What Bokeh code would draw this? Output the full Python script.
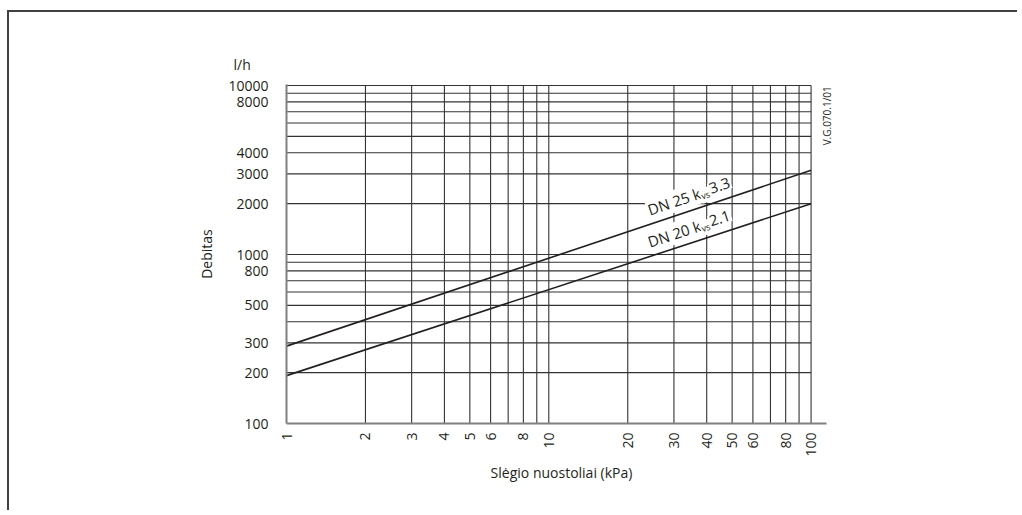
import math
from bokeh.plotting import figure
from bokeh.models import FixedTicker, NumeralTickFormatter
from bokeh.core.properties import value
from bokeh.embed import file_html
from bokeh.resources import INLINE

# ---------------- data ----------------
dp_kpa = [1, 100]                 # pressure loss (kPa)
flow_dn25 = [287, 3150]           # l/h, DN 25 kvs 3.3
flow_dn20 = [192, 2000]           # l/h, DN 20 kvs 2.1
series_names = ["DN 25", "DN 20"]
kvs_values = ["3.3", "2.1"]

x_ticks = [1, 2, 3, 4, 5, 6, 8, 10, 20, 30, 40, 50, 60, 80, 100]
y_ticks = [100, 200, 300, 500, 800, 1000, 2000, 3000, 4000, 8000, 10000]
x_grid = [2, 3, 4, 5, 6, 7, 8, 9, 10, 20, 30, 40, 50, 60, 70, 80, 90, 100]
y_grid = [200, 300, 400, 500, 600, 700, 800, 900,
          1000, 2000, 3000, 4000, 5000, 6000, 7000, 8000, 9000, 10000]

x_label = "Slėgio nuostoliai (kPa)"
y_label = "Debitas"
unit_label = "l/h"
code_label = "V.G.070.1/01"
label_at_x = 23.7                 # where the curve labels start (kPa)

# ---------------- layout ----------------
W, H = 1010, 500
FL, FT = 277, 72                  # frame left / top inside canvas
FW, FH = 550, 339                 # frame size
X0, X1 = 1, 125
Y0, Y1 = 100, 10140
FONT = "Open Sans"
INK = "#231f20"

p = figure(width=W, height=H, x_axis_type="log", y_axis_type="log",
           x_range=(X0, X1), y_range=(Y0, Y1),
           output_backend="svg", toolbar_location=None,
           min_border_left=FL, min_border_top=FT,
           min_border_right=W - FL - FW, min_border_bottom=H - FT - FH)
p.styles = {"margin-top": "10px", "margin-left": "7px",
            "border-top": "2px solid #404040", "border-left": "2px solid #404040"}
p.outline_line_color = None
p.grid.visible = False
p.background_fill_color = "white"
p.border_fill_color = "white"

PX = FW / math.log10(X1 / X0)
PY = FH / math.log10(Y1 / Y0)

# grid lines
grid_col = "#333333"
p.segment(x0=[X0] * len(y_grid), y0=y_grid, x1=[100] * len(y_grid), y1=y_grid,
          line_color=grid_col, line_width=1.1)
p.segment(x0=x_grid, y0=[Y0] * len(x_grid), x1=x_grid, y1=[10000] * len(x_grid),
          line_color=grid_col, line_width=1.1)

# curve labels (with subscript), placed along each line
def line_log_y(xs, ys, x):
    lx0, lx1 = math.log10(xs[0]), math.log10(xs[1])
    ly0, ly1 = math.log10(ys[0]), math.log10(ys[1])
    return ly0 + (ly1 - ly0) * (math.log10(x) - lx0) / (lx1 - lx0)

for name, kvs, ys, lift in [(series_names[0], kvs_values[0], flow_dn25, 15),
                            (series_names[1], kvs_values[1], flow_dn20, 15)]:
    th = math.atan2((math.log10(ys[1]) - math.log10(ys[0])) * PY,
                    (math.log10(dp_kpa[1]) - math.log10(dp_kpa[0])) * PX)
    lx = math.log10(label_at_x)
    ly = line_log_y(dp_kpa, ys, label_at_x) + lift / PY
    parts = [(name + " k", "15px", 55, 0), ("vs", "9px", 10, 4), (kvs, "15px", 0, 0)]
    for txt, fs, adv, drop in parts:
        px_ = lx + drop * math.sin(th) / PX
        py_ = ly - drop * math.cos(th) / PY
        p.text(x=[10 ** px_], y=[10 ** py_], text=[txt], angle=th,
               text_font=value(FONT), text_font_size=fs, text_color=INK,
               text_align="left", text_baseline="alphabetic",
               background_fill_color="white", padding=1)
        lx += adv * math.cos(th) / PX
        ly += adv * math.sin(th) / PY

# curves
p.line(dp_kpa, flow_dn25, line_color=INK, line_width=1.6)
p.line(dp_kpa, flow_dn20, line_color=INK, line_width=1.6)

# drawing code, vertical, right of the grid
p.text(x=[10 ** (math.log10(100) + 16 / PX)], y=[9900], text=[code_label],
       angle=math.pi / 2, text_align="right", text_baseline="alphabetic",
       text_font=value(FONT), text_font_size="10px", text_color=INK)

# axes
axis_col = "#808080"
for ax in (p.xaxis[0], p.yaxis[0]):
    ax.axis_line_color = axis_col
    ax.axis_line_width = 2
    ax.major_tick_line_color = None
    ax.minor_tick_line_color = None
    ax.major_tick_out = 0
    ax.major_tick_in = 0
    ax.minor_tick_out = 0
    ax.major_label_text_font = FONT
    ax.major_label_text_font_size = "14px"
    ax.major_label_text_color = INK
    ax.axis_label_text_font = FONT
    ax.axis_label_text_font_size = "14px"
    ax.axis_label_text_font_style = "normal"
    ax.axis_label_text_color = INK
    ax.formatter = NumeralTickFormatter(format="0")

p.xaxis.bounds = (1, 114)
p.xaxis.ticker = FixedTicker(ticks=x_ticks)
p.yaxis.ticker = FixedTicker(ticks=y_ticks)
p.xaxis.major_label_orientation = math.pi / 2
p.xaxis.major_label_standoff = 9
p.yaxis.major_label_standoff = 18
p.xaxis.axis_label = x_label
p.yaxis.axis_label = y_label
p.xaxis.axis_label_standoff = 3
p.yaxis.axis_label_standoff = 9

# unit on top of the y axis
p.title.text = unit_label
p.title.align = "left"
p.title.offset = -53
p.title.standoff = 21
p.title.text_font = FONT
p.title.text_font_size = "14px"
p.title.text_font_style = "normal"
p.title.text_color = INK

open("out.html", "w").write(file_html(p, INLINE))
